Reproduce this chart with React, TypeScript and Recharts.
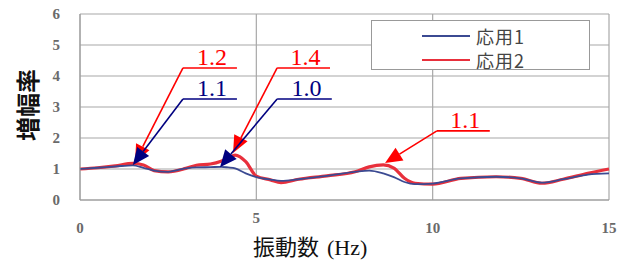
import React from 'react';
import { LineChart, Line, XAxis, YAxis, CartesianGrid, Legend, ReferenceLine } from 'recharts';

// 振動数 (Hz)
const freq = [0, 0.5, 1.0, 1.5, 1.8, 2.1, 2.5, 3.0, 3.3, 3.7, 4.0, 4.2, 4.4, 4.7, 5.0, 5.4, 5.7, 6.2, 7.0, 7.8, 8.2, 8.6, 8.9, 9.2, 9.5, 10.0, 10.8, 11.8, 12.5, 13.1, 13.7, 14.4, 15.0];
// 応用1 (blue)
const app1 = [1.0, 1.04, 1.08, 1.12, 1.04, 0.95, 0.91, 1.02, 1.05, 1.06, 1.07, 1.05, 1.02, 0.86, 0.74, 0.66, 0.62, 0.67, 0.78, 0.91, 0.95, 0.86, 0.74, 0.58, 0.51, 0.53, 0.7, 0.75, 0.7, 0.56, 0.67, 0.82, 0.86];
// 応用2 (red)
const app2 = [1.0, 1.04, 1.1, 1.18, 1.13, 0.95, 0.91, 1.02, 1.12, 1.16, 1.25, 1.35, 1.45, 1.24, 0.77, 0.65, 0.56, 0.67, 0.78, 0.91, 1.07, 1.13, 1.03, 0.7, 0.54, 0.51, 0.7, 0.75, 0.7, 0.54, 0.67, 0.86, 1.0];

const seriesNames = ['応用1', '応用2'];
const xTicks = [0, 5, 10, 15];
const yTicks = [0, 1, 2, 3, 4, 5, 6];

// annotations (data units)
const annLabels = ['1.2', '1.1', '1.4', '1.0', '1.1'];
const annColors = ['#ff0000', '#000080', '#ff0000', '#000080', '#ff0000'];
const annTipX = [1.56, 1.5, 4.34, 3.97, 8.65];
const annTipY = [1.23, 1.13, 1.52, 1.06, 1.19];
const annElbowX = [2.92, 2.92, 5.59, 5.59, 10.12];
const annElbowY = [4.26, 3.26, 4.26, 3.26, 2.23];
const annEndX = [4.45, 4.45, 7.09, 7.14, 11.62];

const data = freq.map((f, i) => ({ f, a1: app1[i], a2: app2[i] }));

const BLUE = '#3b4a92';
const RED = '#e8303c';

const ArrowShape = (props: any) => {
  const { x1, y1, x2, y2, color } = props;
  const dx = x2 - x1;
  const dy = y2 - y1;
  const len = Math.sqrt(dx * dx + dy * dy) || 1;
  const ux = dx / len;
  const uy = dy / len;
  const hl = 17;
  const hw = 7.5;
  const bx = x1 + ux * hl;
  const by = y1 + uy * hl;
  const px = -uy;
  const py = ux;
  const pts = `${x1},${y1} ${bx + px * hw},${by + py * hw} ${bx - px * hw},${by - py * hw}`;
  return (
    <g>
      <line x1={bx} y1={by} x2={x2} y2={y2} stroke={color} strokeWidth={1.6} />
      <polygon points={pts} fill={color} />
    </g>
  );
};

const UnderlineShape = (props: any) => {
  const { x1, y1, x2, y2, color, text } = props;
  return (
    <g>
      <line x1={x1} y1={y1} x2={x2} y2={y2} stroke={color} strokeWidth={1.6} />
      <text
        x={(x1 + x2) / 2 + 2}
        y={y1 - 3}
        textAnchor="middle"
        fill={color}
        fontFamily="Liberation Serif, Times New Roman, serif"
        fontSize={24}
      >
        {text}
      </text>
    </g>
  );
};

const renderLegend = (props: any) => {
  const payload = [...(props.payload || [])].sort((a: any, b: any) =>
    String(a.value).localeCompare(String(b.value))
  );
  return (
    <div
      style={{
        width: 219,
        height: 50,
        border: '1px solid #999',
        background: '#fff',
        boxSizing: 'border-box',
        position: 'relative',
      }}
    >
      {payload.map((e: any, i: number) => (
        <div
          key={i}
          style={{
            position: 'absolute',
            left: 50,
            top: 4 + i * 24,
            height: 22,
            display: 'flex',
            alignItems: 'center',
          }}
        >
          <span style={{ display: 'inline-block', width: 48, height: 2, background: e.color }} />
          <span
            style={{
              marginLeft: 6,
              fontFamily: 'Noto Sans CJK JP, Liberation Serif, serif',
              fontSize: 18,
              color: '#444',
              letterSpacing: 1,
              lineHeight: '22px',
            }}
          >
            {e.value}
          </span>
        </div>
      ))}
    </div>
  );
};

const tickStyle = {
  fontFamily: 'Liberation Serif, Times New Roman, serif',
  fontSize: 15,
  fill: '#6a6a6a',
  fontWeight: 700,
};

const XTick = (props: any) => {
  const { x, y, payload } = props;
  // the "5" label sits raised above the axis title, as in the original
  const lift = payload.value === 5 ? -10 : 0;
  return (
    <text x={x} y={y + lift} dy="0.71em" textAnchor="middle" {...tickStyle}>
      {payload.value}
    </text>
  );
};

export default function App() {
  return (
    <div style={{ position: 'absolute', left: 0, top: 0, width: 629, height: 260, background: '#fff' }}>
      <LineChart width={629} height={260} data={data} margin={{ top: 14, right: 20, bottom: 0, left: 0 }}>
        <CartesianGrid stroke="#a8a8a8" strokeWidth={1.2} horizontalValues={yTicks} verticalValues={xTicks} />
        <XAxis
          dataKey="f"
          type="number"
          domain={[0, 15]}
          ticks={xTicks}
          height={60}
          tickLine={false}
          tickSize={0}
          tickMargin={22}
          axisLine={{ stroke: '#999' }}
          tick={<XTick />}
          label={{
            content: () => (
              <text x={253} y={255} textAnchor="start" fill="#111" fontSize={22}>
                <tspan fontFamily="Noto Sans CJK JP, sans-serif">振動数</tspan>
                <tspan fontFamily="Liberation Serif, serif" dx={8}>(Hz)</tspan>
              </text>
            ),
          }}
        />
        <YAxis
          type="number"
          domain={[0, 6]}
          ticks={yTicks}
          width={80}
          tickLine={false}
          tickSize={0}
          tickMargin={20}
          axisLine={{ stroke: '#999' }}
          tick={tickStyle}
          label={{
            content: () => (
              <text
                x={26}
                y={105}
                transform="rotate(-90 26 105)"
                textAnchor="middle"
                dominantBaseline="central"
                fill="#111"
                fontFamily="Noto Sans CJK JP, sans-serif"
                fontWeight={700}
                fontSize={24}
              >
                増幅率
              </text>
            ),
          }}
        />
        <Legend
          layout="vertical"
          align="center"
          verticalAlign="middle"
          content={renderLegend}
          wrapperStyle={{ left: 371, top: 20, width: 219, height: 50 }}
        />
        <Line
          type="monotone"
          dataKey="a2"
          name={seriesNames[1]}
          stroke={RED}
          strokeWidth={3.2}
          dot={false}
          isAnimationActive={false}
        />
        <Line
          type="monotone"
          dataKey="a1"
          name={seriesNames[0]}
          stroke={BLUE}
          strokeWidth={1.8}
          dot={false}
          isAnimationActive={false}
        />
        {annLabels.map((lab, i) => (
          <ReferenceLine
            key={'arrow' + i}
            segment={[
              { x: annTipX[i], y: annTipY[i] },
              { x: annElbowX[i], y: annElbowY[i] },
            ]}
            shape={(p: any) => <ArrowShape {...p} color={annColors[i]} />}
          />
        ))}
        {annLabels.map((lab, i) => (
          <ReferenceLine
            key={'ul' + i}
            segment={[
              { x: annElbowX[i], y: annElbowY[i] },
              { x: annEndX[i], y: annElbowY[i] },
            ]}
            shape={(p: any) => <UnderlineShape {...p} color={annColors[i]} text={lab} />}
          />
        ))}
      </LineChart>
    </div>
  );
}
